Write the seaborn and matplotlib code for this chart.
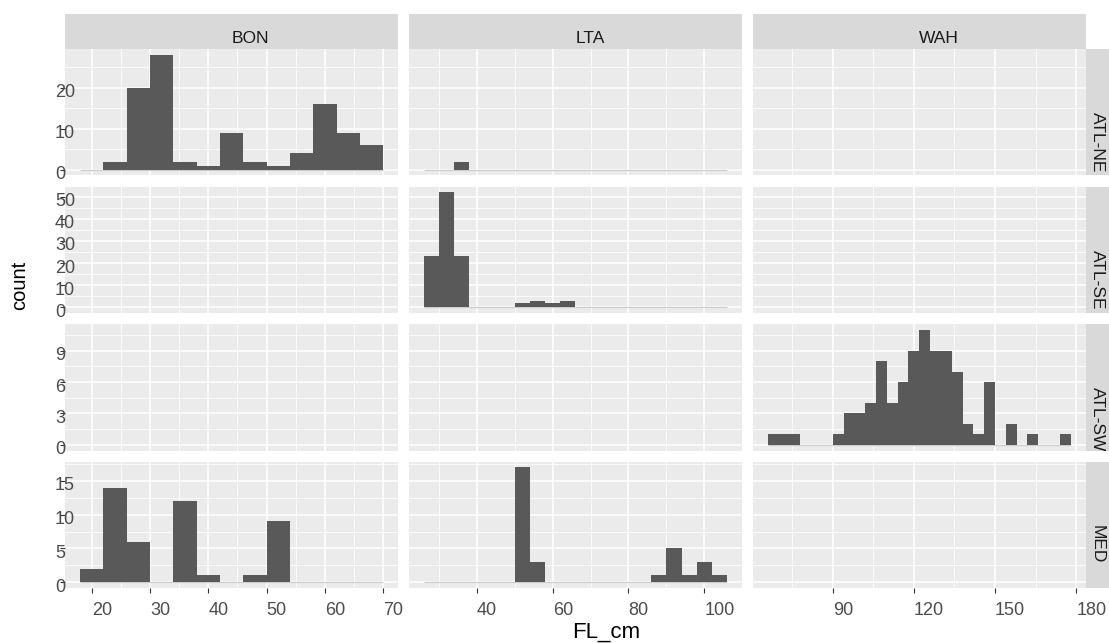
import numpy as np
import pandas as pd
import matplotlib
matplotlib.use("Agg")
import matplotlib.pyplot as plt
import matplotlib.transforms as mtransforms
import seaborn as sns

plt.rcParams['font.family'] = ['Liberation Sans', 'DejaVu Sans']

# facets
species = ["BON", "LTA", "WAH"]
regions = ["ATL-NE", "ATL-SE", "ATL-SW", "MED"]

# histogram bins (4 cm wide, shared down each species column)
binwidth = 4
bin_start = {"BON": 18, "LTA": 26, "WAH": 66}
n_bins = {"BON": 13, "LTA": 20, "WAH": 28}

# counts per bin
bon_atl_ne = [0, 2, 20, 28, 2, 1, 9, 2, 1, 4, 16, 9, 6]
bon_med = [2, 14, 6, 0, 12, 1, 0, 1, 9, 0, 0, 0, 0]
lta_atl_ne = [0, 0, 2, 0, 0, 0, 0, 0, 0, 0, 0, 0, 0, 0, 0, 0, 0, 0, 0, 0]
lta_atl_se = [23, 52, 23, 0, 0, 0, 2, 3, 2, 3, 0, 0, 0, 0, 0, 0, 0, 0, 0, 0]
lta_med = [0, 0, 0, 0, 0, 0, 17, 3, 0, 0, 0, 0, 0, 0, 0, 1, 5, 1, 3, 1]
wah_atl_sw = [1, 1, 1, 0, 0, 0, 1, 3, 3, 4, 8, 4, 6, 9, 11, 9, 9, 7, 2, 1,
              6, 0, 2, 0, 1, 0, 0, 1]

panel_counts = {
    ("BON", "ATL-NE"): bon_atl_ne,
    ("BON", "MED"): bon_med,
    ("LTA", "ATL-NE"): lta_atl_ne,
    ("LTA", "ATL-SE"): lta_atl_se,
    ("LTA", "MED"): lta_med,
    ("WAH", "ATL-SW"): wah_atl_sw,
}

x_ticks = {"BON": [20, 30, 40, 50, 60, 70],
           "LTA": [40, 60, 80, 100],
           "WAH": [90, 120, 150, 180]}
y_ticks = {"ATL-NE": [0, 10, 20],
           "ATL-SE": [0, 10, 20, 30, 40, 50],
           "ATL-SW": [0, 3, 6, 9],
           "MED": [0, 5, 10, 15]}

# long table: one row per bin
rows = []
for (sp, reg), counts in panel_counts.items():
    for i, c in enumerate(counts):
        rows.append({"species": sp, "region": reg,
                     "FL_cm": bin_start[sp] + binwidth * (i + 0.5), "count": c})
df = pd.DataFrame(rows)

edges = {sp: bin_start[sp] + binwidth * np.arange(n_bins[sp] + 1) for sp in species}

# layout in pixels
W, H = 1109, 643
fig = plt.figure(figsize=(W / 100, H / 100), dpi=100)
col_left = [65, 408.8, 752.6]
col_w = 333.3
row_top = [49, 186.5, 324, 461.5]
row_h = 126.5
strip_h = 35

bar_color = "#595959"
panel_bg = "#EBEBEB"
strip_bg = "#D9D9D9"

# small nudge so the y labels sit where the original ones do
lift = mtransforms.ScaledTranslation(0, 3.5 / 100, fig.dpi_scale_trans)


def minor_between(major, lo, hi):
    step = major[1] - major[0]
    m = np.arange(major[0] - step / 2, hi, step)
    return m[(m > lo) & (m < hi)]


for r, reg in enumerate(regions):
    ymax = max(max(panel_counts.get((sp, reg), [0])) for sp in species)
    ylim = (-0.05 * ymax, 1.05 * ymax)
    for c, sp in enumerate(species):
        e = edges[sp]
        span = e[-1] - e[0]
        xlim = (e[0] - 0.05 * span, e[-1] + 0.05 * span)
        ax = fig.add_axes([col_left[c] / W, 1 - (row_top[r] + row_h) / H,
                           col_w / W, row_h / H])
        ax.set_facecolor(panel_bg)
        for s in ax.spines.values():
            s.set_visible(False)

        sub = df[(df["species"] == sp) & (df["region"] == reg)]
        if len(sub):
            ax.hlines(0, e[0], e[-1], color="#cdcdcd", lw=0.9, zorder=0.9)
            sns.histplot(data=sub, x="FL_cm", weights="count",
                         binwidth=binwidth, binrange=(e[0], e[-1]), ax=ax,
                         color=bar_color, alpha=1, linewidth=0, edgecolor="none")
        ax.set_xlabel("")
        ax.set_ylabel("")
        ax.set_xlim(xlim)
        ax.set_ylim(ylim)

        ax.set_xticks(x_ticks[sp])
        ax.set_yticks(y_ticks[reg])
        ax.set_xticks(minor_between(x_ticks[sp], *xlim), minor=True)
        ax.set_yticks(minor_between(y_ticks[reg], *ylim), minor=True)
        ax.set_axisbelow(True)
        ax.grid(which="major", color="white", lw=1.1)
        ax.grid(which="minor", color="white", lw=0.55)
        ax.tick_params(which="minor", length=0)
        ax.tick_params(which="major", length=3.6, width=0.8, color="#333333",
                       labelcolor="#4D4D4D", labelsize=13)
        ax.tick_params(axis="x", pad=6.5)
        ax.tick_params(axis="y", pad=3.6)

        if r == len(regions) - 1:
            plt.setp(ax.get_xticklabels(), ha="left")
        else:
            ax.tick_params(axis="x", length=0, labelbottom=False)
        if c == 0:
            for lab in ax.get_yticklabels():
                lab.set_ha("left")
                lab.set_va("top")
                lab.set_transform(lab.get_transform() + lift)
        else:
            ax.tick_params(axis="y", length=0, labelleft=False)

        # column strips on top
        if r == 0:
            sax = fig.add_axes([col_left[c] / W, 1 - row_top[0] / H,
                                col_w / W, strip_h / H])
            sax.set_facecolor(strip_bg)
            sax.set_xticks([])
            sax.set_yticks([])
            for s in sax.spines.values():
                s.set_visible(False)
            fig.text((col_left[c] + col_w / 2) / W, 1 - 42.7 / H, sp,
                     ha="left", va="baseline", fontsize=12.5, color="#1A1A1A")

    # row strips on the right (cut by the image edge)
    rax = fig.add_axes([1086 / W, 1 - (row_top[r] + row_h) / H,
                        strip_h / W, row_h / H])
    rax.set_facecolor(strip_bg)
    rax.set_xticks([])
    rax.set_yticks([])
    for s in rax.spines.values():
        s.set_visible(False)
    rax.text(1090 / W, 1 - (row_top[r] + row_h / 2) / H, reg,
             transform=fig.transFigure, rotation=270, ha="left", va="top",
             fontsize=12.5, color="#1A1A1A", clip_on=True)

fig.text(572 / W, 1 - 638 / H, "FL_cm", ha="left", va="baseline",
         fontsize=16, color="black")
fig.text(29 / W, 1 - 310 / H, "count", rotation=90, ha="right", va="bottom",
         fontsize=14.5, color="black")

fig.savefig("out.png", dpi=100)
